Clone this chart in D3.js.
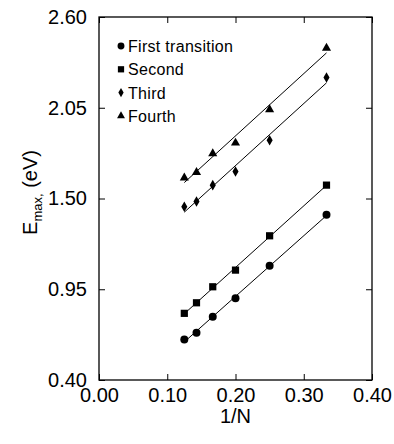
<!DOCTYPE html>
<html>
<head>
<meta charset="utf-8">
<script src="https://cdn.jsdelivr.net/npm/d3@7"></script>
<style>
  body { margin: 0; background: #fff; }
  svg { font-family: "Liberation Sans", Arial, sans-serif; }
</style>
</head>
<body>
<svg id="chart"></svg>
<script>
// * data
const invN = [1 / 8, 1 / 7, 1 / 6, 1 / 5, 1 / 4, 1 / 3];
const first = [0.646, 0.687, 0.784, 0.895, 1.092, 1.401];
const second = [0.804, 0.868, 0.965, 1.066, 1.274, 1.581];
const third = [1.450, 1.482, 1.581, 1.664, 1.853, 2.233];
const fourth = [1.625, 1.659, 1.772, 1.837, 2.039, 2.412];
const seriesNames = ['First transition', 'Second', 'Third', 'Fourth'];
const xTicks = [0.00, 0.10, 0.20, 0.30, 0.40];
const yTicks = [0.40, 0.95, 1.50, 2.05, 2.60];

const margin = { top: 17, right: 22, bottom: 64, left: 99 };
const width = 394 - margin.left - margin.right;
const height = 444 - margin.top - margin.bottom;

const svg = d3.select('#chart')
  .attr('width', 394)
  .attr('height', 444);

const g = svg.append('g')
  .attr('transform', `translate(${margin.left},${margin.top})`);

const x = d3.scaleLinear().domain([0, 0.4]).range([0, width]);
const y = d3.scaleLinear().domain([0.4, 2.6]).range([height, 0]);

const fmt = d3.format('.2f');

// axes, ticks pointing inward
const styleAxis = (sel) => {
  sel.select('.domain').remove();
  sel.selectAll('line').attr('stroke', '#000').attr('stroke-width', 1);
  sel.selectAll('text').attr('fill', '#000').style('font-size', '20px');
};

g.append('g')
  .attr('transform', `translate(0,${height})`)
  .call(d3.axisBottom(x).tickValues(xTicks).tickFormat(fmt).tickSizeInner(-6).tickSizeOuter(0).tickPadding(8))
  .call(styleAxis);
g.append('g')
  .call(d3.axisLeft(y).tickValues(yTicks).tickFormat(fmt).tickSizeInner(-6).tickSizeOuter(0).tickPadding(12))
  .call(styleAxis);
g.append('g')
  .call(d3.axisTop(x).tickValues(xTicks).tickFormat('').tickSizeInner(-6).tickSizeOuter(0))
  .call(styleAxis);
g.append('g')
  .attr('transform', `translate(${width},0)`)
  .call(d3.axisRight(y).tickValues(yTicks).tickFormat('').tickSizeInner(-6).tickSizeOuter(0))
  .call(styleAxis);

g.append('rect')
  .attr('width', width)
  .attr('height', height)
  .attr('fill', 'none')
  .attr('stroke', '#000')
  .attr('stroke-width', 1.3);

// axis titles
g.append('text')
  .attr('x', width / 2)
  .attr('y', height + 43)
  .attr('text-anchor', 'middle')
  .style('font-size', '20px')
  .text('1/N');

const yTitle = svg.append('text')
  .attr('transform', `translate(37,${margin.top + height / 2 - 6}) rotate(-90)`)
  .attr('text-anchor', 'middle')
  .style('font-size', '20px');
yTitle.append('tspan').text('E');
yTitle.append('tspan').attr('dy', 5).style('font-size', '13px').text('max,');
yTitle.append('tspan').attr('dy', -5).text(' (eV)');

// least squares line through one series
const fit = (ys) => {
  const mx = d3.mean(invN);
  const my = d3.mean(ys);
  const sxy = d3.sum(invN, (d, i) => (d - mx) * (ys[i] - my));
  const sxx = d3.sum(invN, (d) => (d - mx) ** 2);
  const b = sxy / sxx;
  const a = my - b * mx;
  const ext = d3.extent(invN);
  return ext.map((v) => [v, a + b * v]);
};

const allSeries = [
  { name: seriesNames[0], values: first, symbol: d3.symbolCircle, size: 50 },
  { name: seriesNames[1], values: second, symbol: d3.symbolSquare, size: 52 },
  { name: seriesNames[2], values: third, symbol: d3.symbolDiamond, size: 32 },
  { name: seriesNames[3], values: fourth, symbol: d3.symbolTriangle, size: 36 }
];

const line = d3.line().x((d) => x(d[0])).y((d) => y(d[1]));

allSeries.forEach((s) => {
  g.append('path')
    .attr('d', line(fit(s.values)))
    .attr('fill', 'none')
    .attr('stroke', '#000')
    .attr('stroke-width', 1);

  g.selectAll(null)
    .data(s.values)
    .enter()
    .append('path')
    .attr('d', d3.symbol().type(s.symbol).size(s.size))
    .attr('transform', (d, i) => `translate(${x(invN[i])},${y(d)})`)
    .attr('fill', '#000');
});

// legend
const legend = svg.append('g').attr('transform', 'translate(121,46)');
allSeries.forEach((s, i) => {
  const row = legend.append('g').attr('transform', `translate(0,${i * 23.3})`);
  row.append('path')
    .attr('d', d3.symbol().type(s.symbol).size(s.size * 0.75))
    .attr('fill', '#000');
  row.append('text')
    .attr('x', 7)
    .attr('y', 6)
    .style('font-size', '16px')
    .style('letter-spacing', '0.3px')
    .text(s.name);
});
</script>
</body>
</html>
